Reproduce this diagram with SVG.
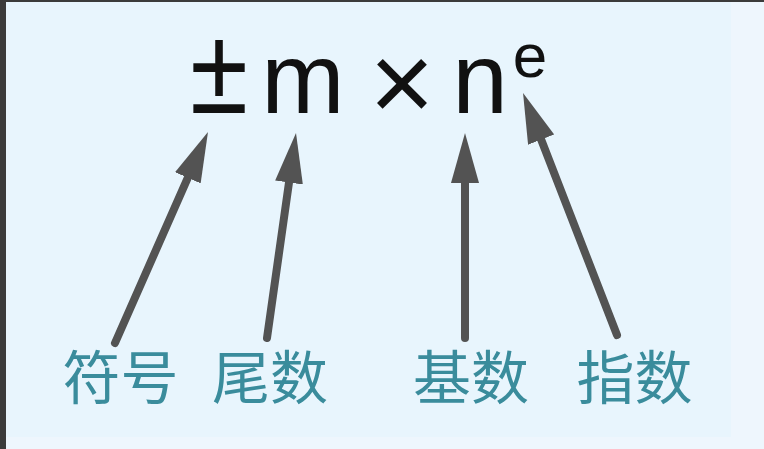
<svg xmlns="http://www.w3.org/2000/svg" width="764" height="449" viewBox="0 0 764 449">
<style>
.f{font-family:"Liberation Sans","Noto Sans",Arial,sans-serif;fill:#111;text-anchor:middle}
.lbl{font-family:"Noto Sans CJK SC","Noto Sans",sans-serif;font-size:58px;fill:#3a8c9c;text-anchor:middle}
.arr{stroke:#535353;stroke-width:8;stroke-linecap:round;fill:none;marker-end:url(#head)}
</style>
<defs>
<marker id="head" markerUnits="userSpaceOnUse" markerWidth="50" markerHeight="28" viewBox="0 0 50 28" refX="25" refY="14" orient="auto">
<path d="M0,0 L50,14 L0,28 z" fill="#535353"/>
</marker>
</defs>
<rect x="0" y="0" width="764" height="449" fill="#eef6fd"/>
<rect x="6" y="2" width="725" height="435" fill="#e8f5fd"/>
<rect x="0" y="0" width="6" height="449" fill="#3b3b3b"/>
<rect x="0" y="0" width="764" height="2" fill="#3b3b3b"/>
<g id="formula">
<text class="f" x="219" y="113" font-size="122" textLength="58" lengthAdjust="spacingAndGlyphs">±</text>
<text class="f" x="303" y="113" font-size="100">m</text>
<text class="f" x="402" y="121" font-size="112">×</text>
<text class="f" x="480" y="113" font-size="100">n</text>
<text class="f" x="530" y="77" font-size="62">e</text>
</g>
<g id="connectors">
<line class="arr" x1="115" y1="343" x2="197.9" y2="154.9"/>
<line class="arr" x1="267" y1="338" x2="292.5" y2="157.8"/>
<line class="arr" x1="465" y1="338" x2="465" y2="158"/>
<line class="arr" x1="617" y1="335" x2="532.1" y2="116.3"/>
</g>
<g id="sign"><text class="lbl" x="120.5" y="399">符号</text></g>
<g id="mantissa"><text class="lbl" x="270" y="399">尾数</text></g>
<g id="base"><text class="lbl" x="471" y="399">基数</text></g>
<g id="exponent"><text class="lbl" x="634.5" y="399">指数</text></g>
</svg>
